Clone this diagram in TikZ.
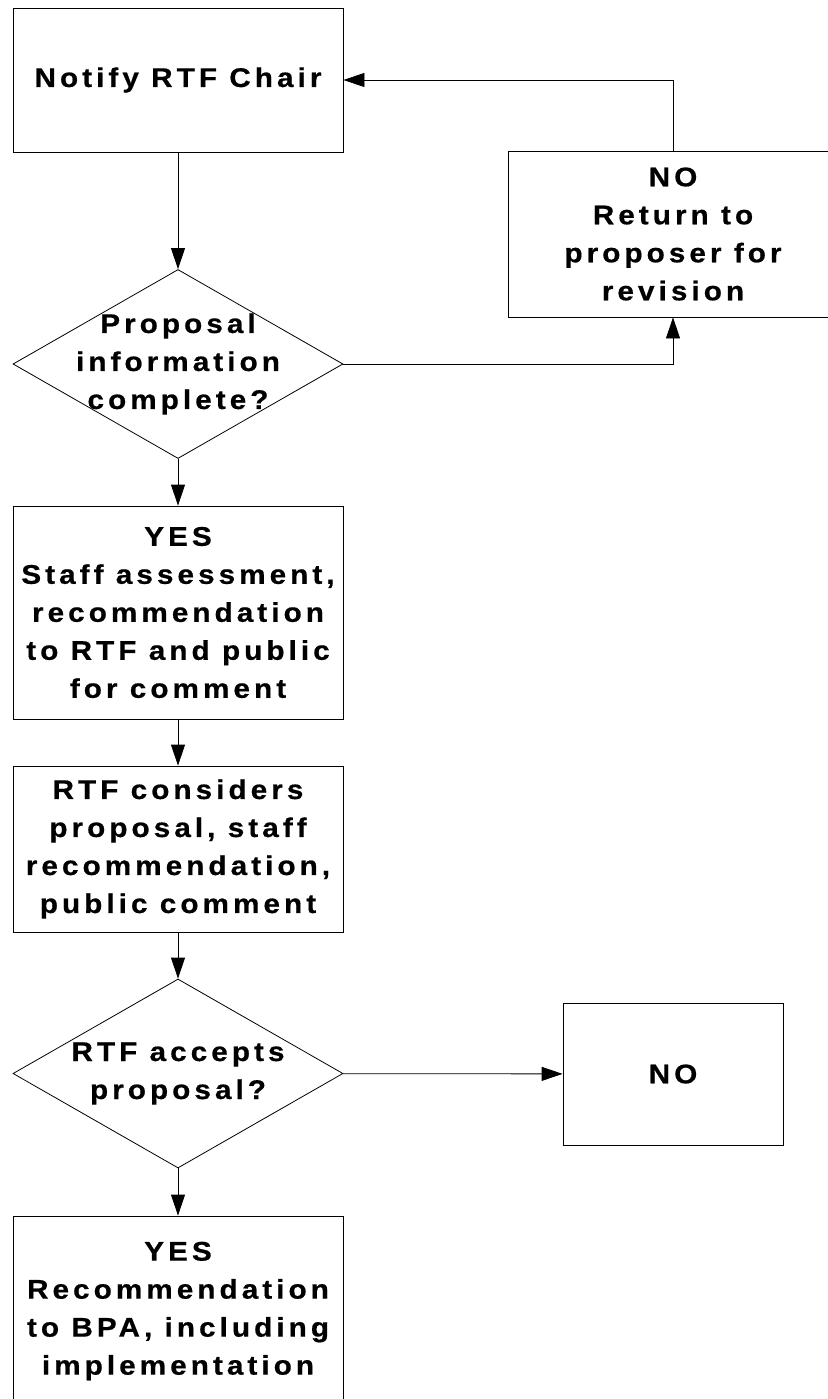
\documentclass[tikz,border=0pt]{standalone}
\usepackage{fontspec}
\setmainfont{Liberation Sans}[FakeStretch=1.1, LetterSpace=15, FakeBold=0.6]
\usepackage{xcolor}
\usetikzlibrary{shapes.geometric,arrows.meta,positioning}

\tikzset{
	stepbox/.style={draw=black, line width=0.8pt, minimum width=330pt, inner sep=0pt, align=center, font=\fontsize{27}{38}\selectfont\bfseries},
	decision/.style={diamond, draw=black, line width=0.8pt, minimum width=330pt, minimum height=189pt, inner sep=0pt, aspect=1.75},
	txt/.style={align=center, font=\fontsize{27}{38}\selectfont\bfseries},
	arr/.style={draw=black, line width=0.8pt, -{Triangle[length=21pt,width=14pt]}}
}

\begin{document}
\begin{tikzpicture}[x=1pt,y=-1pt]
		\useasboundingbox (0,0) rectangle (827,1399);
		\begin{scope}
			\node[stepbox, minimum height=144pt] (notify) at (178,80) {Notify RTF Chair};
			\node[stepbox, minimum height=166pt] (revise) at (673,234) {NO\\Return to\\proposer for\\revision};
			\node[decision] (q1) at (178,364) {};
			\node[txt] (q1text) at (q1) {Proposal\\information\\complete?};
			\node[stepbox, minimum height=213pt] (yes1) at (178,612.5) {YES\\Staff assessment,\\recommendation\\to RTF and public\\for comment};
			\node[stepbox, minimum height=166pt] (consider) at (178,849) {RTF considers\\proposal, staff\\recommendation,\\public comment};
			\node[decision] (q2) at (178,1073.5) {};
			\node[txt] (q2text) at (q2) {RTF accepts\\proposal?};
			\node[stepbox, minimum width=220pt, minimum height=142pt] (no2) at (673,1074) {NO};
			\node[stepbox, minimum height=190pt] (yes2) at (178,1311) {YES\\Recommendation\\to BPA, including\\implementation};

			\draw[arr] (notify) -- (q1);
			\draw[arr] (q1.east) -| (revise.south);
			\draw[arr] (revise.north) |- (notify.east);
			\draw[arr] (q1) -- (yes1);
			\draw[arr] (yes1) -- (consider);
			\draw[arr] (consider) -- (q2);
			\draw[arr] (q2) -- (no2);
			\draw[arr] (q2) -- (yes2);
		\end{scope}
	\end{tikzpicture}
\end{document}
